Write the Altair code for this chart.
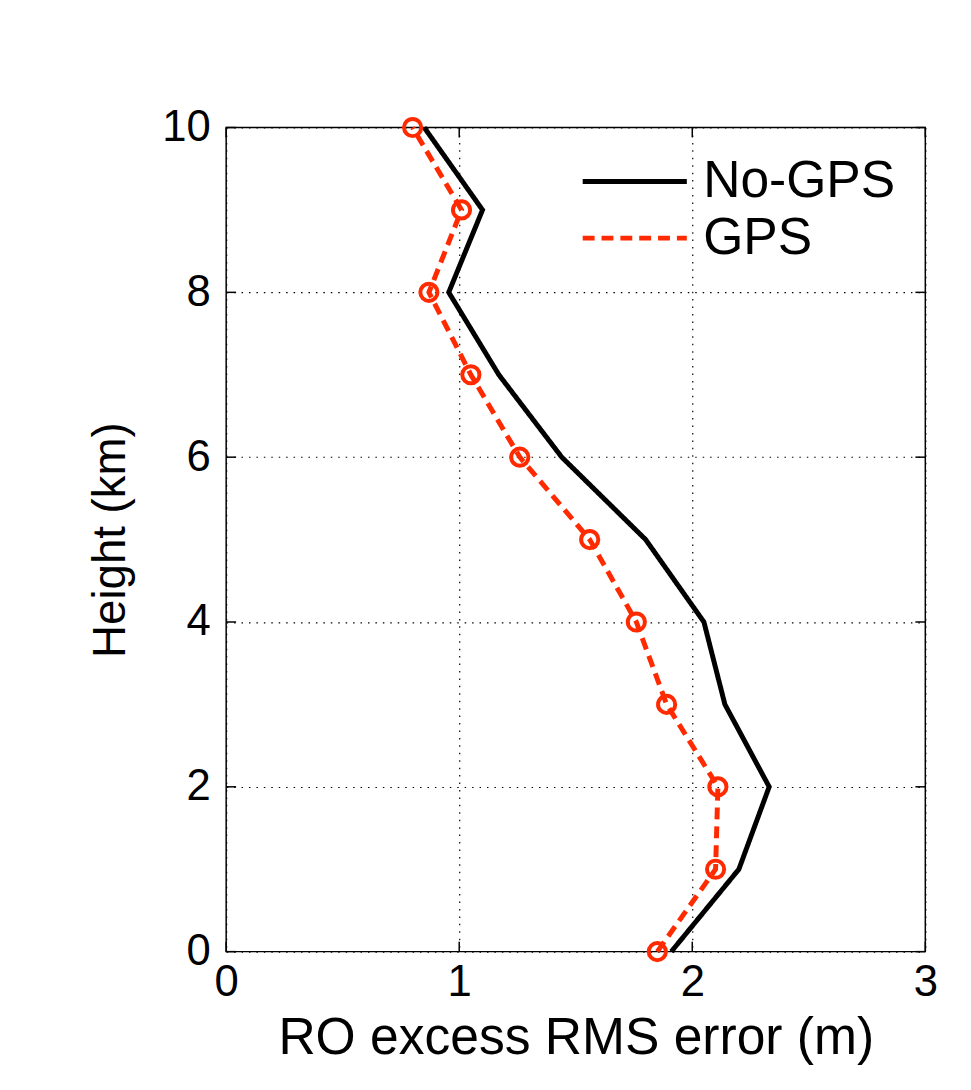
import altair as alt
import pandas as pd

# ---- data ----
heights = [0, 1, 2, 3, 4, 5, 6, 7, 8, 9, 10]
no_gps = [1.91, 2.20, 2.33, 2.14, 2.05, 1.80, 1.44, 1.17, 0.955, 1.10, 0.85]
gps = [1.85, 2.10, 2.11, 1.89, 1.76, 1.56, 1.26, 1.05, 0.87, 1.01, 0.80]
series_names = ["No-GPS", "GPS"]
series_colors = ["#000000", "#FF2A00"]
x_ticks = [0, 1, 2, 3]
y_ticks = [0, 2, 4, 6, 8, 10]

df = pd.DataFrame({
    "height": heights + heights,
    "rms": no_gps + gps,
    "series": [series_names[0]] * len(heights) + [series_names[1]] * len(heights),
})
xt_df = pd.DataFrame({"rms": x_ticks})
yt_df = pd.DataFrame({"height": y_ticks})

W, H = 705, 831
FONT = "Liberation Sans"
TICK = 10

xscale = alt.Scale(domain=[0, 3], nice=False, zero=False)
yscale = alt.Scale(domain=[0, 10], nice=False, zero=False)

x_axis = alt.Axis(
    orient="bottom", values=x_ticks, title="RO excess RMS error (m)",
    grid=True, gridColor="black", gridDash=[1.5, 6], gridWidth=1.2, gridOpacity=1,
    ticks=False, domain=False, labelFont=FONT, labelFontSize=44,
    labelColor="black", labelPadding=9, titleFont=FONT, titleFontSize=52,
    titleFontWeight="normal", titleColor="black", titlePadding=9,
    labelFlush=False)
y_axis = alt.Axis(
    orient="left", values=y_ticks, title="Height (km)",
    grid=True, gridColor="black", gridDash=[1.5, 6], gridWidth=1.2, gridOpacity=1,
    ticks=False, domain=False, labelFont=FONT, labelFontSize=44,
    labelColor="black", labelPadding=16, titleFont=FONT, titleFontSize=46,
    titleFontWeight="normal", titleColor="black", titlePadding=28,
    labelFlush=False)

X = alt.X("rms:Q", scale=xscale, axis=x_axis)
Y = alt.Y("height:Q", scale=yscale, axis=y_axis)

legend = alt.Legend(
    title=None, orient="none", legendX=357, legendY=26,
    labelFont=FONT, labelFontSize=52, labelColor="black",
    symbolType="stroke", symbolSize=11025, symbolStrokeWidth=5,
    labelOffset=14, padding=0, labelLimit=400, rowPadding=0, clipHeight=57,
)

lines = alt.Chart(df).mark_line(strokeWidth=5).encode(
    x=X, y=Y,
    color=alt.Color("series:N", scale=alt.Scale(domain=series_names, range=series_colors),
                    legend=legend),
    strokeDash=alt.StrokeDash("series:N", scale=alt.Scale(domain=series_names,
                              range=[[1, 0], [12, 7]]), legend=legend),
    order=alt.Order("height:Q"),
)

points = alt.Chart(df).transform_filter(alt.datum.series == "GPS").mark_point(
    shape="circle", filled=False, size=300, strokeWidth=4, color=series_colors[1], opacity=1
).encode(x=X, y=Y)

# inward tick marks on the four sides of the frame
tick_style = dict(color="black", strokeWidth=1.5)
t_bottom = alt.Chart(xt_df).mark_rule(**tick_style).encode(
    x=X, y=alt.value(H), y2=alt.value(H - TICK))
t_top = alt.Chart(xt_df).mark_rule(**tick_style).encode(
    x=X, y=alt.value(0), y2=alt.value(TICK))
t_left = alt.Chart(yt_df).mark_rule(**tick_style).encode(
    y=Y, x=alt.value(0), x2=alt.value(TICK))
t_right = alt.Chart(yt_df).mark_rule(**tick_style).encode(
    y=Y, x=alt.value(W), x2=alt.value(W - TICK))

chart = alt.layer(t_bottom, t_top, t_left, t_right, lines, points).properties(
    width=W, height=H,
    autosize=alt.AutoSizeParams(type="none"),
    padding={"left": 220, "top": 116, "right": 38, "bottom": 135},
    background="white",
).configure_view(stroke="black", strokeWidth=1.5)

chart.save("out.html", embed_options={"renderer": "svg", "actions": False})
